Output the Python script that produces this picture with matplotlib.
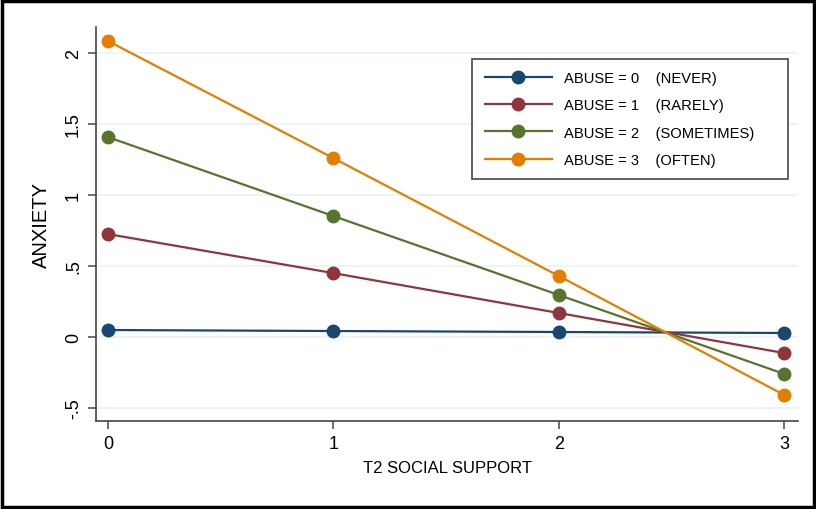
import numpy as np
import matplotlib.pyplot as plt
from matplotlib.patches import Rectangle

plt.rcParams['font.family'] = ['Liberation Sans', 'DejaVu Sans']

# Datos
support = [0, 1, 2, 3]
abuse0 = [0.049, 0.042, 0.035, 0.028]
abuse1 = [0.725, 0.45, 0.169, -0.113]
abuse2 = [1.408, 0.852, 0.296, -0.26]
abuse3 = [2.085, 1.26, 0.43, -0.408]
series = [abuse0, abuse1, abuse2, abuse3]
etiquetas = ['ABUSE = 0    (NEVER)', 'ABUSE = 1    (RARELY)',
             'ABUSE = 2    (SOMETIMES)     ', 'ABUSE = 3    (OFTEN)']
colores = ['#1a476f', '#90353b', '#55752f', '#e37e00']
yticks = [-0.5, 0, 0.5, 1, 1.5, 2]
yticklabels = ['-.5', '0', '.5', '1', '1.5', '2']

fig = plt.figure(figsize=(8.16, 5.10), dpi=100)
ax = fig.add_axes([0.1176, 0.1725, 0.8604, 0.7725])

for ys, lab, c in zip(series, etiquetas, colores):
    ax.plot(support, ys, '-o', color=c, lw=1.6, ms=9, label=lab)

ax.set_xlim(-0.053, 3.062)
ax.set_ylim(-0.592, 2.183)
ax.set_xticks(support)
ax.set_yticks(yticks)
ax.set_yticklabels(yticklabels, rotation=90, va='center')
ax.grid(axis='y', color='#eaf2f3', lw=1.2)
ax.set_axisbelow(True)
ax.tick_params(direction='out', length=6, width=1.2, color='#555555',
               labelsize=13, pad=4)
for s in ['top', 'right']:
    ax.spines[s].set_visible(False)
for s in ['left', 'bottom']:
    ax.spines[s].set_color('#444444')
    ax.spines[s].set_linewidth(1.2)
ax.set_xlabel('T2 SOCIAL SUPPORT', fontsize=12, labelpad=6)
ax.set_ylabel('ANXIETY', fontsize=14.5, labelpad=10)

leg = ax.legend(loc='upper right', bbox_to_anchor=(0.985, 0.92), fontsize=10.6,
                handlelength=4.6, fancybox=False, framealpha=1,
                labelspacing=0.9, borderpad=0.85, handletextpad=0.8,
                borderaxespad=0)
leg.get_frame().set_edgecolor('#555555')
leg.get_frame().set_linewidth(1.3)

fig.patches.append(Rectangle((0.002, 0.003), 0.996, 0.994, transform=fig.transFigure,
                             fill=False, edgecolor='black', lw=2.5))

fig.savefig('out.png', dpi=100)
